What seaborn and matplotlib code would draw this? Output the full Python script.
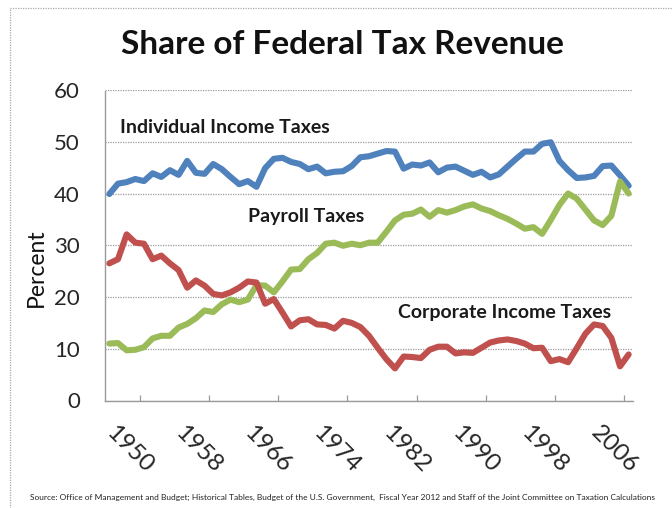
import pandas as pd
import matplotlib.pyplot as plt
import seaborn as sns
from matplotlib.ticker import FixedLocator

sns.set_theme(style="white")
plt.rcParams['font.family'] = ['Lato', 'DejaVu Sans']

# Share of federal receipts by source, fiscal years 1950-2010 (%)
years = list(range(1950, 2011))

individual = [39.9, 41.9, 42.2, 42.8, 42.4, 43.9, 43.2, 44.5, 43.6, 46.3,
              44.0, 43.8, 45.7, 44.7, 43.2, 41.8, 42.4, 41.3, 44.9, 46.7,
              46.9, 46.1, 45.7, 44.7, 45.2, 43.9, 44.2, 44.3, 45.3, 47.0,
              47.2, 47.7, 48.2, 48.1, 44.8, 45.6, 45.4, 46.0, 44.1, 45.0,
              45.2, 44.4, 43.6, 44.2, 43.1, 43.7, 45.2, 46.7, 48.1, 48.1,
              49.6, 49.9, 46.3, 44.5, 43.0, 43.1, 43.4, 45.3, 45.4, 43.5,
              41.5]

payroll = [11.0, 11.1, 9.7, 9.8, 10.3, 12.0, 12.5, 12.5, 14.1, 14.8,
           15.9, 17.4, 17.1, 18.6, 19.5, 19.0, 19.5, 22.3, 22.2, 20.9,
           23.0, 25.3, 25.4, 27.3, 28.5, 30.3, 30.5, 29.9, 30.3, 30.0,
           30.5, 30.5, 32.6, 34.8, 35.9, 36.1, 36.9, 35.5, 36.8, 36.3,
           36.8, 37.5, 37.9, 37.1, 36.6, 35.8, 35.1, 34.2, 33.2, 33.5,
           32.2, 34.9, 37.8, 40.0, 39.0, 36.9, 34.8, 33.9, 35.7, 42.3,
           40.0]

corporate = [26.5, 27.3, 32.1, 30.5, 30.3, 27.3, 28.0, 26.5, 25.2, 21.8,
             23.2, 22.2, 20.6, 20.3, 20.9, 21.8, 23.0, 22.8, 18.7, 19.6,
             17.0, 14.3, 15.5, 15.7, 14.7, 14.6, 13.9, 15.4, 15.0, 14.2,
             12.5, 10.2, 8.0, 6.2, 8.5, 8.4, 8.2, 9.8, 10.4, 10.4,
             9.1, 9.3, 9.2, 10.2, 11.2, 11.6, 11.8, 11.5, 11.0, 10.1,
             10.2, 7.6, 8.0, 7.4, 10.1, 12.9, 14.7, 14.4, 12.1, 6.6,
             8.9]

series_names = ["Individual Income Taxes", "Payroll Taxes", "Corporate Income Taxes"]
series_colors = ["#4F81BD", "#9BBB59", "#C0504D"]
label_years = list(range(1950, 2011, 8))
y_ticks = [0, 10, 20, 30, 40, 50, 60]

df = pd.DataFrame({"Year": years * 3,
                   "Share": individual + payroll + corporate,
                   "Source": sum([[n] * len(years) for n in series_names], [])})

fig = plt.figure(figsize=(6.72, 5.08), dpi=100)
ax = fig.add_axes([105 / 672, 1 - 400.5 / 508, 528 / 672, 310.5 / 508])

sns.lineplot(data=df, x="Year", y="Share", hue="Source", palette=series_colors,
             linewidth=4.4, legend=False, ax=ax)

grey = "#9A9A9A"
ax.set_xlim(1949.5, 2010.5)
ax.set_ylim(0, 60)
ax.set_yticks(y_ticks)
ax.yaxis.grid(True, color=grey, linestyle=(0, (1, 1)), linewidth=0.9)
ax.set_axisbelow(True)
for s in ["top", "right"]:
    ax.spines[s].set_visible(False)
for s in ["left", "bottom"]:
    ax.spines[s].set_color(grey)
    ax.spines[s].set_linestyle((0, (1, 1)))
    ax.spines[s].set_linewidth(1.0)
ax.tick_params(axis="y", length=4, color=grey, width=0.9, pad=14, labelsize=16)
ax.set_xlabel("")
ax.set_ylabel("")

# tick marks sit on category boundaries, alternating outside / inside
ax.xaxis.set_major_locator(FixedLocator([y - 0.5 for y in range(1950, 2011, 8)]))
ax.xaxis.set_minor_locator(FixedLocator([y - 0.5 for y in range(1954, 2011, 8)]))
ax.tick_params(axis="x", which="major", direction="out", length=8, color=grey,
               width=0.9, labelbottom=False)
ax.tick_params(axis="x", which="minor", direction="in", length=4, color=grey,
               width=0.9, bottom=True)

# year labels centred on categories
sec = ax.secondary_xaxis("bottom")
sec.spines["bottom"].set_visible(False)
sec.set_xticks(label_years)
sec.tick_params(length=0, pad=21, labelsize=17.5)
for lab in sec.get_xticklabels():
    lab.set_rotation(-45)
    lab.set_ha("left")
    lab.set_va("center")
    lab.set_rotation_mode("anchor")

lbl_kw = dict(fontsize=14, fontweight="bold", color="#1a1a1a", va="center", ha="left")
ax.text(1951.2, 52.8, "Individual Income Taxes", **lbl_kw)
ax.text(1966.0, 35.5, "Payroll Taxes", **lbl_kw)
ax.text(1983.3, 17.1, "Corporate Income Taxes", **lbl_kw)

fig.text(342 / 672, 1 - 45 / 508, "Share of Federal Tax Revenue", fontsize=24,
         fontweight="bold", ha="center", va="center", color="#111111")
fig.text(36 / 672, 1 - 268 / 508, "Percent", fontsize=16.5, rotation=90,
         ha="center", va="center", color="#111111")
fig.text(30 / 672, 1 - 497 / 508,
         "Source: Office of Management and Budget; Historical Tables, Budget of the U.S. Government,  "
         "Fiscal Year 2012 and Staff of the Joint Committee on Taxation Calculations",
         fontsize=6.05, ha="left", va="center", color="#222222")

# dotted frame of the original chart area
fig.add_artist(plt.Line2D([10 / 672, 10 / 672], [0, 1 - 8 / 508], transform=fig.transFigure,
                          color="#aaaaaa", linestyle=(0, (1, 1)), linewidth=0.9))
fig.add_artist(plt.Line2D([10 / 672, 1], [1 - 8 / 508, 1 - 8 / 508], transform=fig.transFigure,
                          color="#aaaaaa", linestyle=(0, (1, 1)), linewidth=0.9))

fig.savefig("out.png", dpi=100)
